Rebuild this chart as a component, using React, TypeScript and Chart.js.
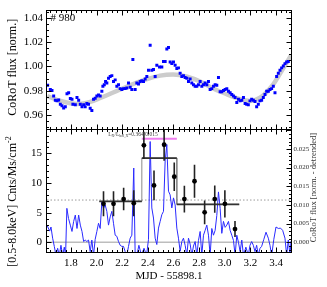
import React, { useEffect, useRef } from 'react';
import { Chart, registerables } from 'chart.js';

Chart.register(...registerables);

const FONT = "'Liberation Serif', 'Times New Roman', serif";

// ---------- shared x range (MJD - 55898.1) ----------
const xMin = 1.613;
const xMax = 3.517;

// ---------- top panel: CoRoT normalised flux ----------
const topX = [
  1.618, 1.639, 1.652, 1.665, 1.678, 1.691, 1.704, 1.717, 1.730, 1.743, 1.756, 1.769, 1.782, 1.795, 1.808, 1.815,
  1.834, 1.847, 1.860, 1.873, 1.886, 1.899, 1.911, 1.924, 1.937, 1.950, 1.963, 1.976, 1.989, 2.002, 2.015, 2.028,
  2.041, 2.049, 2.060, 2.070, 2.080, 2.093, 2.106, 2.119, 2.132, 2.145, 2.158, 2.171, 2.184, 2.197, 2.210, 2.223,
  2.236, 2.249, 2.262, 2.275, 2.283, 2.301, 2.314, 2.327, 2.340, 2.353, 2.366, 2.379, 2.392, 2.405, 2.418, 2.431,
  2.444, 2.457, 2.470, 2.491, 2.509, 2.522, 2.535, 2.548, 2.561, 2.574, 2.587, 2.600, 2.613, 2.626, 2.639, 2.652,
  2.665, 2.678, 2.691, 2.704, 2.717, 2.730, 2.743, 2.756, 2.769, 2.782, 2.795, 2.808, 2.821, 2.834, 2.847, 2.860,
  2.873, 2.886, 2.899, 2.912, 2.925, 2.938, 2.951, 2.964, 2.977, 2.990, 3.003, 3.016, 3.029, 3.042, 3.055, 3.068,
  3.081, 3.094, 3.107, 3.120, 3.133, 3.146, 3.159, 3.171, 3.184, 3.197, 3.210, 3.223, 3.236, 3.249, 3.262, 3.275,
  3.288, 3.301, 3.314, 3.327, 3.340, 3.353, 3.366, 3.379, 3.392, 3.405, 3.418, 3.431, 3.444, 3.457, 3.470, 3.483,
  3.496,
];
const topFlux = [
  0.9844, 0.9809, 0.9801, 0.9756, 0.9721, 0.9716, 0.9724, 0.9689, 0.9676, 0.9657, 0.9668, 0.9775, 0.9783, 0.9735, 0.9729, 0.9689,
  0.9684, 0.9743, 0.9721, 0.9689, 0.9668, 0.9684, 0.9668, 0.9695, 0.9689, 0.9655, 0.9636, 0.9729, 0.9737, 0.9756, 0.9764, 0.9756,
  0.9796, 0.9836, 0.9849, 0.9876, 0.9863, 0.9903, 0.9916, 0.9924, 0.9876, 0.9889, 0.9836, 0.9849, 0.9817, 0.9809, 0.9817, 0.9817,
  0.9823, 0.9863, 0.9828, 0.9809, 1.0057, 0.9809, 0.9863, 0.9855, 0.9876, 0.9881, 0.9876, 0.9897, 0.9916, 0.9969, 1.0175, 0.9969,
  0.9975, 0.9916, 1.0009, 0.9996, 0.9996, 1.0041, 1.0041, 1.0143, 1.0156, 1.0036, 1.0023, 1.0036, 1.0009, 0.9983, 0.9988, 0.9943,
  0.9916, 0.9924, 0.9908, 0.9903, 0.9876, 0.9897, 0.9863, 0.9849, 0.9836, 0.9836, 0.9849, 0.9876, 0.9836, 0.9849, 0.9863, 0.9849,
  0.9876, 0.9809, 0.9817, 0.9836, 0.9849, 0.9844, 0.9908, 0.9791, 0.9791, 0.9801, 0.9809, 0.9817, 0.9796, 0.9783, 0.9769, 0.9756,
  0.9743, 0.9703, 0.9729, 0.9716, 0.9721, 0.9743, 0.9695, 0.9689, 0.9684, 0.9716, 0.9729, 0.9721, 0.9711, 0.9668, 0.9689, 0.9716,
  0.9721, 0.9743, 0.9769, 0.9796, 0.9796, 0.9809, 0.9817, 0.9836, 0.9783, 0.9916, 0.9943, 0.9969, 0.9988, 1.0004, 1.0023, 1.0036,
  1.0041,
];
// smooth trend (gray band)
const trendX = [1.615, 1.717, 1.849, 1.950, 2.028, 2.184, 2.340, 2.496, 2.597, 2.706, 2.808, 2.909, 3.018, 3.120, 3.198, 3.276, 3.377, 3.455, 3.517];
const trendFlux = [0.9756, 0.9716, 0.9690, 0.9708, 0.9740, 0.9810, 0.9876, 0.9924, 0.9934, 0.9916, 0.9876, 0.9818, 0.9770, 0.9730, 0.9716, 0.9742, 0.9850, 0.9982, 1.0090];
const topYMin = 0.9476;
const topYMax = 1.046;

// ---------- bottom panel: X-ray rate and detrended CoRoT flux ----------
const detX = [
  1.613, 1.634, 1.644, 1.657, 1.670, 1.683, 1.696, 1.709, 1.722, 1.735, 1.748, 1.758, 1.768, 1.781, 1.795, 1.808,
  1.821, 1.834, 1.847, 1.860, 1.873, 1.886, 1.899, 1.911, 1.924, 1.937, 1.950, 1.963, 1.976, 1.989, 2.002, 2.015,
  2.028, 2.041, 2.054, 2.067, 2.080, 2.093, 2.106, 2.119, 2.132, 2.145, 2.158, 2.171, 2.184, 2.197, 2.210, 2.223,
  2.236, 2.249, 2.262, 2.275, 2.290, 2.301, 2.314, 2.330, 2.350, 2.370, 2.390, 2.405, 2.418, 2.431, 2.444, 2.457,
  2.470, 2.483, 2.496, 2.509, 2.522, 2.535, 2.548, 2.561, 2.574, 2.587, 2.600, 2.613, 2.626, 2.639, 2.652, 2.665,
  2.678, 2.691, 2.704, 2.717, 2.730, 2.743, 2.756, 2.769, 2.782, 2.795, 2.808, 2.821, 2.834, 2.847, 2.860, 2.873,
  2.886, 2.899, 2.912, 2.925, 2.938, 2.951, 2.964, 2.977, 2.990, 3.003, 3.016, 3.029, 3.042, 3.055, 3.068, 3.081,
  3.094, 3.107, 3.120, 3.133, 3.146, 3.165, 3.184, 3.197, 3.210, 3.223, 3.236, 3.249, 3.262, 3.275, 3.288, 3.305,
  3.322, 3.340, 3.353, 3.366, 3.383, 3.400, 3.418, 3.435, 3.452, 3.470, 3.483, 3.496, 3.509, 3.517,
];
const detFlux = [
  0.0046, 0.0030, 0.0041, 0.0011, -0.0011, -0.0035, -0.0016, -0.0035, -0.0008, -0.0035, -0.0013, -0.0035, 0.0091, 0.0064, 0.0046, 0.0029,
  0.0056, 0.0073, 0.0037, 0.0073, 0.0046, 0.0029, 0.0002, 0.0006, 0.0002, 0.0006, -0.0025, 0.0006, -0.0035, 0.0008, 0.0029, 0.0051,
  0.0037, 0.0108, 0.0091, 0.0100, 0.0083, 0.0046, 0.0068, 0.0083, 0.0051, 0.0019, 0.0016, 0.0002, -0.0008, -0.0011, -0.0011, -0.0025,
  -0.0035, -0.0011, 0.0011, 0.0019, 0.0199, -0.0035, -0.0035, -0.0008, -0.0035, -0.0016, -0.0035, 0.0008, 0.0270, 0.0092, 0.0065, 0.0011,
  -0.0006, 0.0038, 0.0056, 0.0074, 0.0083, 0.0218, 0.0262, 0.0137, 0.0127, 0.0092, 0.0119, 0.0100, 0.0038, 0.0011, -0.0024, 0.0002,
  0.0011, -0.0008, -0.0035, 0.0011, -0.0005, -0.0035, -0.0010, 0.0002, -0.0035, 0.0005, 0.0029, -0.0035, 0.0019, 0.0032, 0.0046, 0.0019,
  -0.0035, 0.0037, 0.0019, 0.0032, 0.0072, 0.0135, 0.0091, 0.0024, 0.0056, 0.0040, 0.0046, 0.0056, 0.0032, 0.0019, 0.0005, -0.0035,
  0.0019, 0.0000, -0.0025, 0.0006, -0.0035, -0.0013, -0.0035, -0.0008, 0.0002, -0.0008, -0.0025, -0.0008, -0.0035, -0.0016, -0.0011, 0.0008,
  0.0027, 0.0011, -0.0008, -0.0035, 0.0008, 0.0041, 0.0037, 0.0038, 0.0032, 0.0011, -0.0035, 0.0006, -0.0035, 0.0003,
];
// X-ray binned rate (Cnts/Ms/cm^-2)
const rateX = [2.054, 2.132, 2.211, 2.290, 2.369, 2.448, 2.527, 2.606, 2.685, 2.764, 2.843, 2.922, 3.001, 3.080];
const rate = [6.5, 6.5, 7.3, 6.6, 16.35, 9.6, 16.45, 11.07, 7.3, 10.3, 5.06, 7.3, 6.5, 2.24];
const rateErr = [2.1, 2.1, 1.9, 2.2, 2.3, 2.5, 2.7, 2.4, 2.25, 2.8, 2.0, 2.3, 2.3, 1.35];
// Bayesian blocks
const blockStart = [2.021, 2.353, 2.626];
const blockEnd = [2.353, 2.626, 3.113];
const blockRate = [6.9, 14.2, 6.4];
// flare interval
const flareStart = 2.353;
const flareEnd = 2.626;
const flareLevel = 17.45;
const meanRate = 7.13;
const rateMin = -1.8;
const rateMax = 18.94;
const detMin = -0.00287;
const detMax = 0.03009;

function frameTicks(chart: any, leftId: string, rightId: string, lMaj: number, lMin: number, rMaj: number, rMin: number) {
  const { ctx, chartArea: a, scales } = chart;
  const L = Math.round(a.left) - 0.5;
  const R = Math.round(a.right) + 0.5;
  const T = Math.round(a.top) - 0.5;
  const B = Math.round(a.bottom) - 0.5;
  ctx.save();
  ctx.strokeStyle = '#000';
  ctx.lineWidth = 1;
  ctx.strokeRect(L, T, R - L, B - T);
  ctx.beginPath();
  const steps = (min: number, max: number, minor: number, major: number, fn: (v: number, m: boolean) => void) => {
    const k0 = Math.ceil(min / minor - 1e-6);
    const k1 = Math.floor(max / minor + 1e-6);
    for (let k = k0; k <= k1; k++) {
      const v = k * minor;
      const r = v / major;
      fn(v, Math.abs(r - Math.round(r)) < 1e-6);
    }
  };
  const xs = scales.x;
  steps(xs.min, xs.max, 0.04, 0.2, (v, m) => {
    const p = Math.round(xs.getPixelForValue(v)) + 0.5;
    const len = m ? 5 : 2.5;
    ctx.moveTo(p, T); ctx.lineTo(p, T + len);
    ctx.moveTo(p, B); ctx.lineTo(p, B - len);
  });
  const ls = scales[leftId];
  steps(ls.min, ls.max, lMin, lMaj, (v, m) => {
    const p = Math.round(ls.getPixelForValue(v)) + 0.5;
    ctx.moveTo(L, p); ctx.lineTo(L + (m ? 5 : 2.5), p);
  });
  const rs = scales[rightId];
  steps(rs.min, rs.max, rMin, rMaj, (v, m) => {
    const p = Math.round(rs.getPixelForValue(v)) + 0.5;
    ctx.moveTo(R, p); ctx.lineTo(R - (m ? 5 : 2.5), p);
  });
  ctx.stroke();
  ctx.restore();
}

const noGrid = { display: false, drawTicks: false };

export default function App() {
  const topRef = useRef<HTMLCanvasElement>(null);
  const botRef = useRef<HTMLCanvasElement>(null);

  useEffect(() => {
    const topChart = new Chart(topRef.current as HTMLCanvasElement, {
      type: 'line',
      data: {
        datasets: [
          {
            data: topX.map((x, i) => ({ x, y: topFlux[i] })),
            showLine: false,
            pointStyle: 'rect',
            pointRadius: 2.1,
            pointBorderWidth: 0,
            pointBackgroundColor: '#0000ff',
            order: 1,
          },
          {
            data: trendX.map((x, i) => ({ x, y: trendFlux[i] })),
            borderColor: '#cccccc',
            borderWidth: 4.5,
            pointRadius: 0,
            cubicInterpolationMode: 'monotone',
            order: 2,
          },
        ],
      },
      options: {
        animation: false,
        responsive: false,
        events: [],
        layout: { padding: { left: 0, right: 36, top: 7, bottom: 157 } },
        plugins: { legend: { display: false }, tooltip: { enabled: false } },
        scales: {
          x: {
            type: 'linear', min: xMin, max: xMax,
            afterFit: (s: any) => { s.height = 0; },
            ticks: { display: false }, grid: noGrid, border: { display: false },
          },
          y: {
            type: 'linear', min: topYMin, max: topYMax,
            afterFit: (s: any) => { s.width = 47; },
            grid: noGrid, border: { display: false },
            ticks: {
              stepSize: 0.02, includeBounds: false, padding: 4, color: '#000',
              font: { family: FONT, size: 11 },
              callback: (v: any) => Number(v).toFixed(2),
            },
          },
        },
      },
      plugins: [
        {
          id: 'topDecor',
          afterDraw(chart: any) {
            frameTicks(chart, 'y', 'y', 0.02, 0.005, 0.02, 0.005);
            const { ctx, chartArea: a } = chart;
            ctx.save();
            ctx.fillStyle = '#000';
            ctx.font = `11px ${FONT}`;
            ctx.textBaseline = 'middle';
            ctx.textAlign = 'left';
            ctx.fillText('# 980', a.left + 3.5, a.top + 8);
            ctx.translate(12.5, (a.top + a.bottom) / 2 - 3);
            ctx.rotate(-Math.PI / 2);
            ctx.textAlign = 'center';
            ctx.font = `12px ${FONT}`;
            ctx.fillText('CoRoT flux [norm.]', 0, 0);
            ctx.restore();
          },
        },
      ],
    } as any);

    const errData: any[] = [];
    rateX.forEach((x, i) => {
      errData.push({ x, y: rate[i] - rateErr[i] }, { x, y: rate[i] + rateErr[i] }, { x, y: null });
    });
    const blockData: any[] = [];
    const stepData: any[] = [];
    blockStart.forEach((s, i) => {
      blockData.push({ x: s, y: blockRate[i] }, { x: blockEnd[i], y: blockRate[i] }, { x: blockEnd[i], y: null });
      stepData.push({ x: s, y: blockRate[i] }, { x: blockEnd[i], y: blockRate[i] });
    });

    const botChart = new Chart(botRef.current as HTMLCanvasElement, {
      type: 'line',
      data: {
        datasets: [
          {
            data: rateX.map((x, i) => ({ x, y: rate[i] })),
            showLine: false, pointRadius: 2.4, pointBorderWidth: 0, pointBackgroundColor: '#000', order: 1,
          },
          { data: errData, borderColor: '#222', borderWidth: 1.6, pointRadius: 0, spanGaps: false, order: 2 },
          {
            data: [{ x: flareStart, y: flareLevel }, { x: flareEnd, y: flareLevel }],
            borderColor: '#f07ef0', borderWidth: 2, pointRadius: 0, order: 3,
          },
          { data: blockData, borderColor: '#333', borderWidth: 1.8, pointRadius: 0, spanGaps: false, order: 4 },
          { data: stepData, borderColor: '#8a8a8a', borderWidth: 1, pointRadius: 0, order: 5 },
          {
            data: detX.map((x, i) => ({ x, y: detFlux[i] })), yAxisID: 'y2',
            borderColor: '#2a2aff', borderWidth: 1, pointRadius: 0, order: 6,
          },
          {
            data: [{ x: xMin, y: meanRate }, { x: xMax, y: meanRate }],
            borderColor: '#9a9a9a', borderWidth: 1, borderDash: [1.5, 2], pointRadius: 0, order: 7,
          },
          {
            data: [{ x: xMin, y: 0 }, { x: xMax, y: 0 }],
            borderColor: '#bdbdbd', borderWidth: 1.5, pointRadius: 0, order: 8,
          },
        ],
      },
      options: {
        animation: false,
        responsive: false,
        events: [],
        layout: { padding: { left: 0, right: 0, top: 130, bottom: 0 } },
        plugins: { legend: { display: false }, tooltip: { enabled: false } },
        scales: {
          x: {
            type: 'linear', min: xMin, max: xMax,
            afterFit: (s: any) => { s.height = 34; },
            grid: noGrid, border: { display: false },
            ticks: {
              stepSize: 0.2, includeBounds: false, padding: 4, color: '#000', maxRotation: 0, autoSkip: false,
              font: { family: FONT, size: 11 },
              callback: (v: any) => Number(v).toFixed(1),
            },
            title: {
              display: true, text: 'MJD - 55898.1', color: '#000',
              font: { family: FONT, size: 11 }, padding: { top: 0, bottom: 4.5 },
            },
          },
          y: {
            type: 'linear', position: 'left', min: rateMin, max: rateMax,
            afterFit: (s: any) => { s.width = 47; },
            grid: noGrid, border: { display: false },
            ticks: {
              stepSize: 5, includeBounds: false, padding: 5, color: '#000',
              font: { family: FONT, size: 11 },
              callback: (v: any) => String(Math.round(Number(v))),
            },
          },
          y2: {
            type: 'linear', position: 'right', min: detMin, max: detMax,
            afterFit: (s: any) => { s.width = 36; },
            grid: noGrid, border: { display: false },
            ticks: {
              stepSize: 0.005, includeBounds: false, padding: 2.5, color: '#333',
              font: { family: FONT, size: 7 },
              callback: (v: any) => (Number(v) > 0.0255 ? '' : Number(v).toFixed(3)),
            },
          },
        },
      },
      plugins: [
        {
          id: 'botDecor',
          afterDraw(chart: any) {
            frameTicks(chart, 'y', 'y2', 5, 1, 0.005, 0.001);
            const { ctx, chartArea: a, scales } = chart;
            ctx.save();
            ctx.fillStyle = '#000';
            // left title with superscript
            ctx.save();
            ctx.translate(12.5, 201.5);
            ctx.rotate(-Math.PI / 2);
            ctx.textBaseline = 'middle';
            ctx.textAlign = 'left';
            ctx.font = `12px ${FONT}`;
            const main = '[0.5-8.0keV] Cnts/Ms/cm';
            const w1 = ctx.measureText(main).width;
            ctx.font = `8px ${FONT}`;
            const w2 = ctx.measureText('-2').width;
            const x0 = -(w1 + w2) / 2;
            ctx.font = `12px ${FONT}`;
            ctx.fillText(main, x0, 0);
            ctx.font = `8px ${FONT}`;
            ctx.fillText('-2', x0 + w1, -4);
            ctx.restore();
            // right title
            ctx.save();
            ctx.translate(314, (a.top + a.bottom) / 2 - 4);
            ctx.rotate(-Math.PI / 2);
            ctx.textBaseline = 'middle';
            ctx.textAlign = 'center';
            ctx.fillStyle = '#333';
            ctx.font = `8.5px ${FONT}`;
            ctx.fillText('CoRoT flux [norm. - detrended]', 0, 0);
            ctx.restore();
            // ratio annotation
            const parts = [
              { t: 'L', s: 5.5, dy: 0 },
              { t: 'X', s: 4, dy: 1.5 },
              { t: '/L', s: 5.5, dy: 0 },
              { t: 'bol,X', s: 4, dy: 1.5 },
              { t: '=0.364/0.015', s: 5.5, dy: 0 },
            ];
            let px = scales.x.getPixelForValue(2.09);
            const py = scales.y.getPixelForValue(18.25);
            ctx.fillStyle = '#444';
            ctx.textBaseline = 'middle';
            ctx.textAlign = 'left';
            parts.forEach((p) => {
              ctx.font = `${p.s}px ${FONT}`;
              ctx.fillText(p.t, px, py + p.dy);
              px += ctx.measureText(p.t).width;
            });
            ctx.restore();
          },
        },
      ],
    } as any);

    return () => {
      topChart.destroy();
      botChart.destroy();
    };
  }, []);

  return (
    <div style={{ position: 'absolute', left: 0, top: 0, width: 327, height: 287, background: '#fff' }}>
      <canvas ref={topRef} width={327} height={287} style={{ position: 'absolute', left: 0, top: 0 }} />
      <canvas ref={botRef} width={327} height={287} style={{ position: 'absolute', left: 0, top: 0 }} />
    </div>
  );
}
